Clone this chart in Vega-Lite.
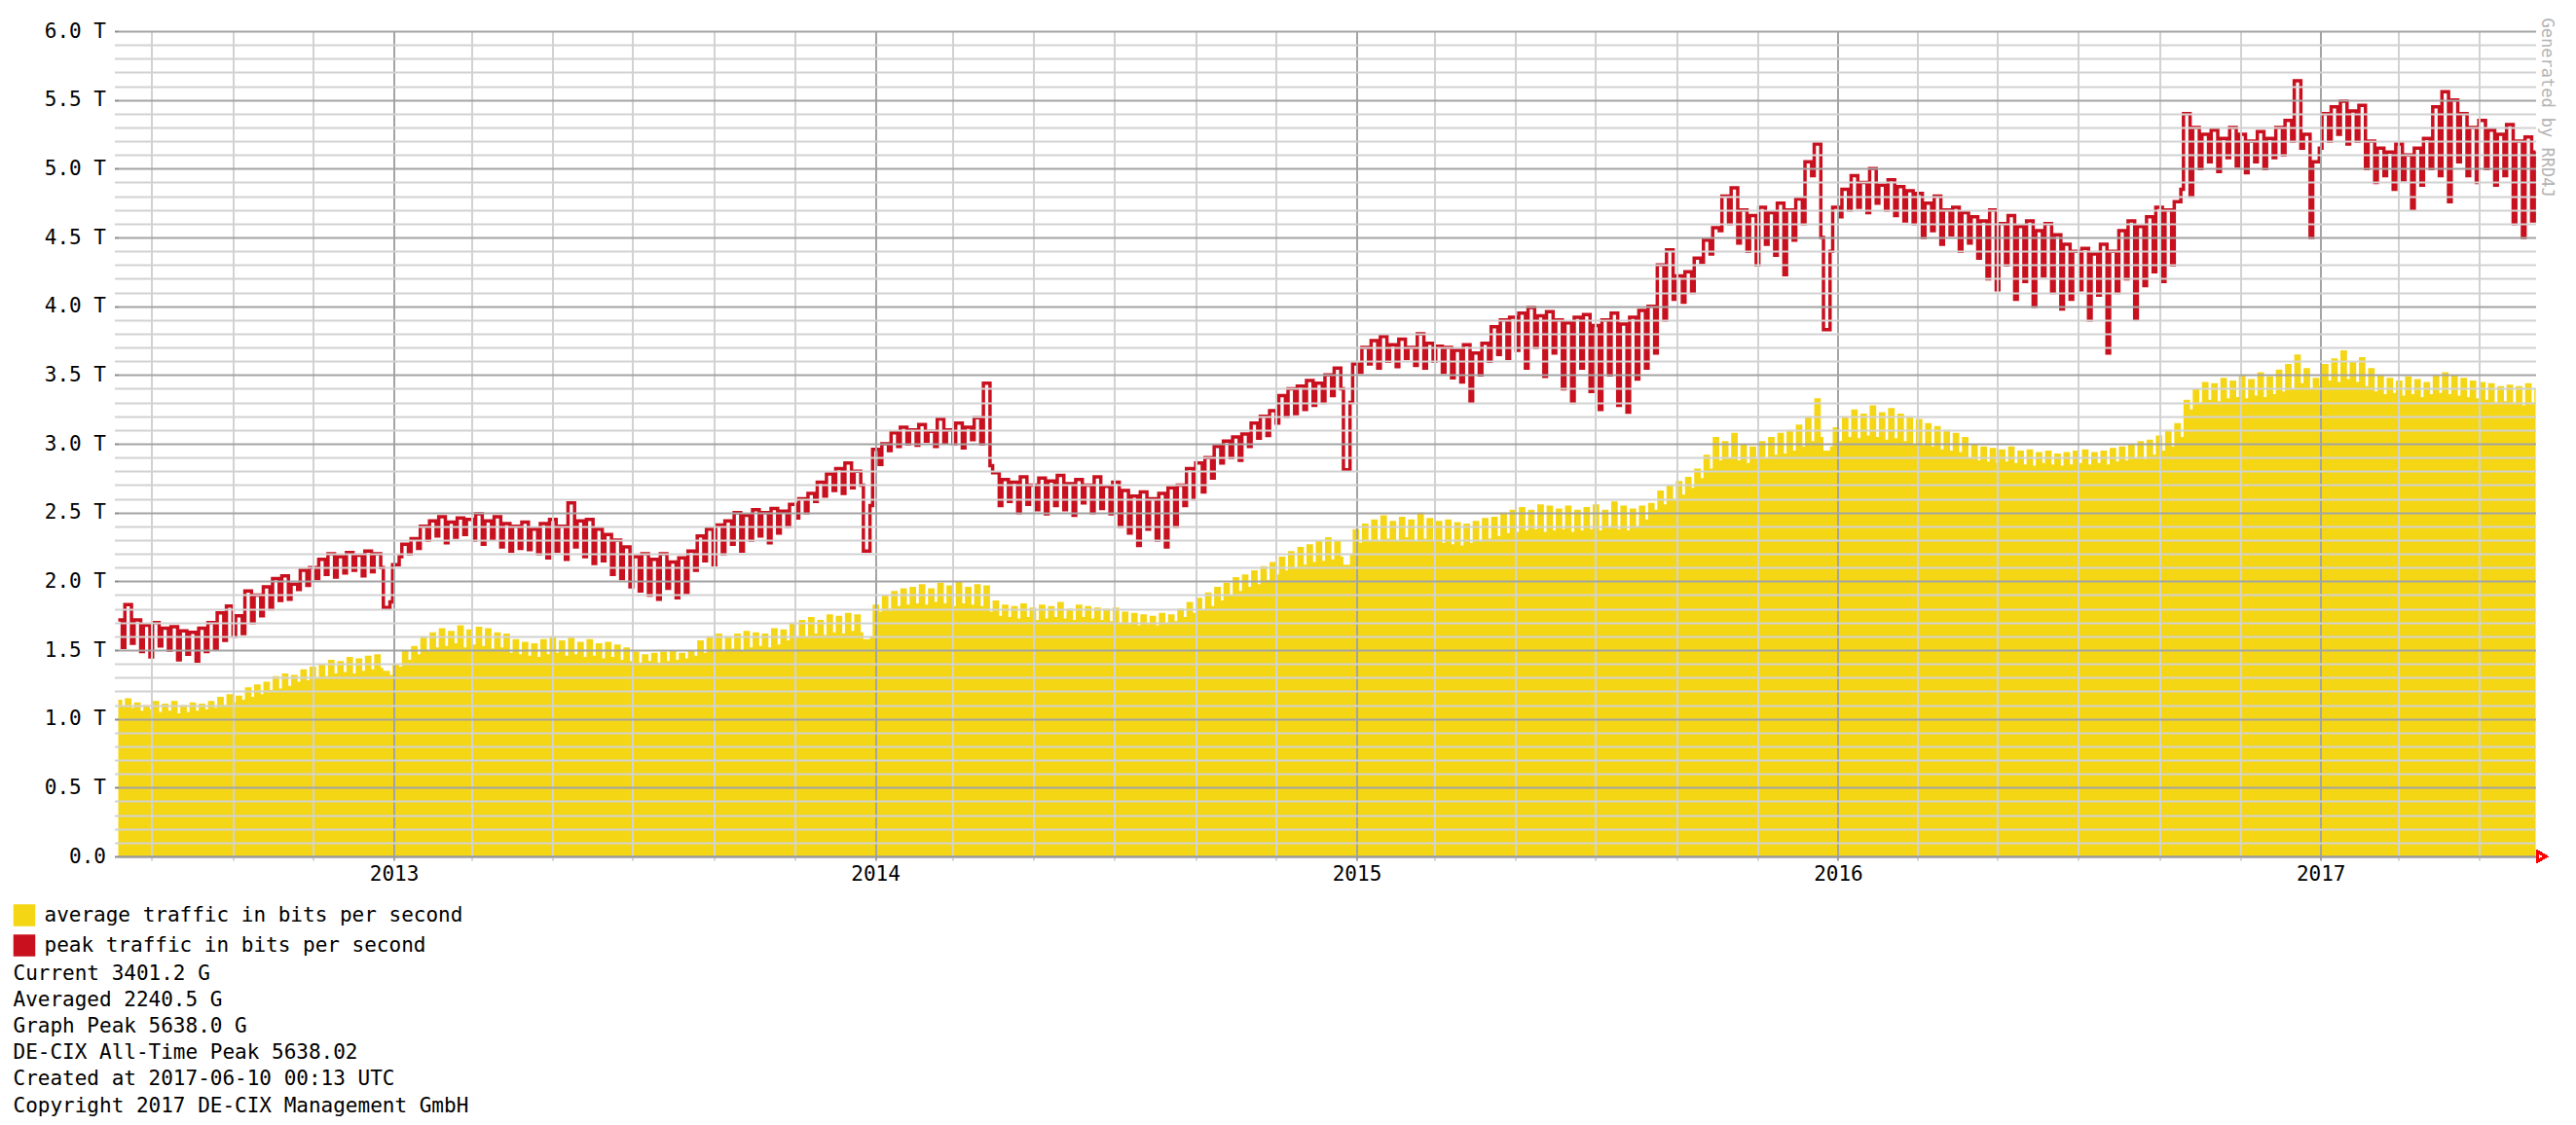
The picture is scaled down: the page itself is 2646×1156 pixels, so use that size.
{
"$schema": "https://vega.github.io/schema/vega-lite/v6.json",
"width": 2483, "height": 848,
"autosize": {"type": "none"},
"padding": {"left": 121.5, "top": 32, "right": 41.5, "bottom": 276},
"background": "white",
"config": {"view": {"stroke": null}, "font": "DejaVu Sans Mono", "legend": {"symbolStrokeColor": "black", "symbolStrokeWidth": 2.5}},
"title": {"text": ["Current 3401.2 G", "Averaged 2240.5 G", "Graph Peak 5638.0 G", "DE-CIX All-Time Peak 5638.02", "Created at 2017-06-10 00:13 UTC", "Copyright 2017 DE-CIX Management GmbH"], "orient": "bottom", "anchor": "start", "frame": "group", "dx": -108, "offset": 3, "font": "DejaVu Sans Mono", "fontSize": 21, "fontWeight": "normal", "color": "black", "lineHeight": 27.1},
"data": {"values": [
{"t":0,"a":1.14,"p":1.72},
{"t":3,"a":1.09,"p":1.52},{"t":5,"a":1.15,"p":1.83},
{"t":10,"a":1.08,"p":1.55},{"t":12,"a":1.12,"p":1.72},
{"t":17,"a":1.06,"p":1.49},{"t":19,"a":1.10,"p":1.68},
{"t":24,"a":1.07,"p":1.45},{"t":26,"a":1.13,"p":1.70},
{"t":31,"a":1.05,"p":1.53},{"t":33,"a":1.11,"p":1.66},
{"t":38,"a":1.06,"p":1.50},{"t":40,"a":1.13,"p":1.67},
{"t":45,"a":1.04,"p":1.43},{"t":47,"a":1.10,"p":1.64},
{"t":52,"a":1.05,"p":1.47},{"t":54,"a":1.12,"p":1.63},
{"t":59,"a":1.06,"p":1.42},{"t":61,"a":1.11,"p":1.66},
{"t":66,"a":1.07,"p":1.49},{"t":68,"a":1.13,"p":1.70},
{"t":73,"a":1.08,"p":1.51},{"t":75,"a":1.16,"p":1.77},
{"t":80,"a":1.10,"p":1.57},{"t":82,"a":1.18,"p":1.82},
{"t":87,"a":1.12,"p":1.60},{"t":89,"a":1.17,"p":1.75},
{"t":94,"a":1.14,"p":1.62},{"t":96,"a":1.23,"p":1.93},
{"t":101,"a":1.16,"p":1.70},{"t":103,"a":1.25,"p":1.90},
{"t":108,"a":1.18,"p":1.75},{"t":110,"a":1.27,"p":1.96},
{"t":115,"a":1.21,"p":1.80},{"t":117,"a":1.31,"p":2.02},
{"t":122,"a":1.22,"p":1.86},{"t":124,"a":1.33,"p":2.04},
{"t":129,"a":1.24,"p":1.87},{"t":131,"a":1.32,"p":1.98},
{"t":136,"a":1.27,"p":1.94},{"t":138,"a":1.36,"p":2.08},
{"t":143,"a":1.28,"p":1.97},{"t":145,"a":1.38,"p":2.10},
{"t":150,"a":1.30,"p":2.02},{"t":152,"a":1.40,"p":2.16},
{"t":157,"a":1.31,"p":2.05},{"t":159,"a":1.43,"p":2.20},
{"t":164,"a":1.33,"p":2.03},{"t":166,"a":1.42,"p":2.18},
{"t":171,"a":1.34,"p":2.06},{"t":173,"a":1.45,"p":2.21},
{"t":178,"a":1.33,"p":2.08},{"t":180,"a":1.44,"p":2.19},
{"t":185,"a":1.35,"p":2.04},{"t":187,"a":1.46,"p":2.22},
{"t":192,"a":1.36,"p":2.07},{"t":194,"a":1.47,"p":2.20},
{"t":199,"a":1.37,"p":2.10},{"t":201,"a":1.35,"p":1.81},
{"t":206,"a":1.32,"p":1.85},{"t":208,"a":1.40,"p":2.12},
{"t":213,"a":1.38,"p":2.18},{"t":215,"a":1.50,"p":2.27},
{"t":220,"a":1.43,"p":2.20},{"t":222,"a":1.53,"p":2.31},
{"t":227,"a":1.47,"p":2.24},{"t":229,"a":1.60,"p":2.40},
{"t":234,"a":1.50,"p":2.30},{"t":236,"a":1.63,"p":2.44},
{"t":241,"a":1.52,"p":2.33},{"t":243,"a":1.66,"p":2.47},
{"t":248,"a":1.53,"p":2.28},{"t":250,"a":1.64,"p":2.43},
{"t":255,"a":1.55,"p":2.32},{"t":257,"a":1.68,"p":2.46},
{"t":262,"a":1.52,"p":2.34},{"t":264,"a":1.65,"p":2.45},
{"t":269,"a":1.54,"p":2.30},{"t":271,"a":1.67,"p":2.49},
{"t":276,"a":1.53,"p":2.27},{"t":278,"a":1.66,"p":2.44},
{"t":283,"a":1.51,"p":2.31},{"t":285,"a":1.63,"p":2.47},
{"t":290,"a":1.52,"p":2.25},{"t":292,"a":1.62,"p":2.42},
{"t":297,"a":1.48,"p":2.22},{"t":299,"a":1.58,"p":2.40},
{"t":304,"a":1.47,"p":2.24},{"t":306,"a":1.56,"p":2.43},
{"t":311,"a":1.46,"p":2.23},{"t":313,"a":1.55,"p":2.38},
{"t":318,"a":1.45,"p":2.20},{"t":320,"a":1.58,"p":2.42},
{"t":325,"a":1.47,"p":2.17},{"t":327,"a":1.60,"p":2.45},
{"t":332,"a":1.48,"p":2.22},{"t":334,"a":1.57,"p":2.40},
{"t":339,"a":1.46,"p":2.16},{"t":341,"a":1.59,"p":2.57},
{"t":346,"a":1.47,"p":2.25},{"t":348,"a":1.56,"p":2.44},
{"t":353,"a":1.45,"p":2.18},{"t":355,"a":1.58,"p":2.45},
{"t":360,"a":1.46,"p":2.13},{"t":362,"a":1.55,"p":2.38},
{"t":367,"a":1.44,"p":2.15},{"t":369,"a":1.56,"p":2.34},
{"t":374,"a":1.45,"p":2.05},{"t":376,"a":1.54,"p":2.30},
{"t":381,"a":1.43,"p":2.02},{"t":383,"a":1.52,"p":2.25},
{"t":388,"a":1.42,"p":1.96},{"t":390,"a":1.49,"p":2.18},
{"t":395,"a":1.41,"p":1.93},{"t":397,"a":1.47,"p":2.20},
{"t":402,"a":1.42,"p":1.90},{"t":404,"a":1.48,"p":2.16},
{"t":409,"a":1.41,"p":1.87},{"t":411,"a":1.49,"p":2.20},
{"t":416,"a":1.42,"p":1.95},{"t":418,"a":1.50,"p":2.14},
{"t":423,"a":1.43,"p":1.88},{"t":425,"a":1.48,"p":2.17},
{"t":430,"a":1.44,"p":1.92},{"t":432,"a":1.50,"p":2.22},
{"t":437,"a":1.46,"p":2.08},{"t":439,"a":1.57,"p":2.33},
{"t":444,"a":1.48,"p":2.15},{"t":446,"a":1.60,"p":2.38},
{"t":451,"a":1.50,"p":2.12},{"t":453,"a":1.62,"p":2.41},
{"t":458,"a":1.49,"p":2.20},{"t":460,"a":1.60,"p":2.44},
{"t":465,"a":1.51,"p":2.27},{"t":467,"a":1.62,"p":2.50},
{"t":472,"a":1.50,"p":2.22},{"t":474,"a":1.64,"p":2.48},
{"t":479,"a":1.52,"p":2.30},{"t":481,"a":1.63,"p":2.52},
{"t":486,"a":1.53,"p":2.33},{"t":488,"a":1.62,"p":2.50},
{"t":493,"a":1.52,"p":2.28},{"t":495,"a":1.66,"p":2.53},
{"t":500,"a":1.54,"p":2.35},{"t":502,"a":1.65,"p":2.51},
{"t":507,"a":1.57,"p":2.40},{"t":509,"a":1.70,"p":2.56},
{"t":514,"a":1.59,"p":2.46},{"t":516,"a":1.72,"p":2.60},
{"t":521,"a":1.60,"p":2.50},{"t":523,"a":1.74,"p":2.64},
{"t":528,"a":1.62,"p":2.58},{"t":530,"a":1.72,"p":2.72},
{"t":535,"a":1.61,"p":2.62},{"t":537,"a":1.76,"p":2.78},
{"t":542,"a":1.63,"p":2.66},{"t":544,"a":1.75,"p":2.82},
{"t":549,"a":1.62,"p":2.64},{"t":551,"a":1.77,"p":2.86},
{"t":556,"a":1.64,"p":2.68},{"t":558,"a":1.76,"p":2.80},
{"t":563,"a":1.63,"p":2.70},{"t":565,"a":1.58,"p":2.22},
{"t":570,"a":1.60,"p":2.55},{"t":572,"a":1.83,"p":2.96},
{"t":577,"a":1.78,"p":2.85},{"t":579,"a":1.90,"p":3.00},
{"t":584,"a":1.80,"p":2.95},{"t":586,"a":1.93,"p":3.08},
{"t":591,"a":1.82,"p":2.98},{"t":593,"a":1.95,"p":3.12},
{"t":598,"a":1.83,"p":3.00},{"t":600,"a":1.96,"p":3.10},
{"t":605,"a":1.84,"p":2.99},{"t":607,"a":1.98,"p":3.14},
{"t":612,"a":1.83,"p":3.02},{"t":614,"a":1.95,"p":3.09},
{"t":619,"a":1.85,"p":2.98},{"t":621,"a":1.99,"p":3.18},
{"t":626,"a":1.84,"p":3.01},{"t":628,"a":1.97,"p":3.10},
{"t":633,"a":1.82,"p":3.00},{"t":635,"a":2.00,"p":3.15},
{"t":640,"a":1.84,"p":2.97},{"t":642,"a":1.96,"p":3.12},
{"t":647,"a":1.83,"p":3.03},{"t":649,"a":1.98,"p":3.19},
{"t":654,"a":1.82,"p":3.00},{"t":656,"a":1.97,"p":3.44},
{"t":661,"a":1.78,"p":2.84},{"t":663,"a":1.86,"p":2.79},
{"t":668,"a":1.75,"p":2.55},{"t":670,"a":1.83,"p":2.74},
{"t":675,"a":1.74,"p":2.58},{"t":677,"a":1.82,"p":2.72},
{"t":682,"a":1.73,"p":2.50},{"t":684,"a":1.84,"p":2.76},
{"t":689,"a":1.74,"p":2.56},{"t":691,"a":1.81,"p":2.70},
{"t":696,"a":1.72,"p":2.52},{"t":698,"a":1.83,"p":2.75},
{"t":703,"a":1.73,"p":2.49},{"t":705,"a":1.82,"p":2.73},
{"t":710,"a":1.74,"p":2.55},{"t":712,"a":1.85,"p":2.77},
{"t":717,"a":1.73,"p":2.52},{"t":719,"a":1.80,"p":2.71},
{"t":724,"a":1.72,"p":2.48},{"t":726,"a":1.83,"p":2.74},
{"t":731,"a":1.74,"p":2.57},{"t":733,"a":1.82,"p":2.70},
{"t":738,"a":1.73,"p":2.50},{"t":740,"a":1.81,"p":2.76},
{"t":745,"a":1.72,"p":2.53},{"t":747,"a":1.80,"p":2.69},
{"t":752,"a":1.71,"p":2.49},{"t":754,"a":1.81,"p":2.72},
{"t":759,"a":1.70,"p":2.40},{"t":761,"a":1.78,"p":2.66},
{"t":766,"a":1.69,"p":2.35},{"t":768,"a":1.77,"p":2.62},
{"t":773,"a":1.68,"p":2.26},{"t":775,"a":1.76,"p":2.65},
{"t":780,"a":1.69,"p":2.38},{"t":782,"a":1.75,"p":2.60},
{"t":787,"a":1.68,"p":2.30},{"t":789,"a":1.77,"p":2.64},
{"t":794,"a":1.70,"p":2.25},{"t":796,"a":1.76,"p":2.68},
{"t":801,"a":1.71,"p":2.40},{"t":803,"a":1.80,"p":2.70},
{"t":808,"a":1.74,"p":2.55},{"t":810,"a":1.85,"p":2.82},
{"t":815,"a":1.77,"p":2.60},{"t":817,"a":1.88,"p":2.86},
{"t":822,"a":1.79,"p":2.65},{"t":824,"a":1.92,"p":2.90},
{"t":829,"a":1.82,"p":2.75},{"t":831,"a":1.96,"p":2.98},
{"t":836,"a":1.86,"p":2.86},{"t":838,"a":1.99,"p":3.02},
{"t":843,"a":1.90,"p":2.90},{"t":845,"a":2.03,"p":3.05},
{"t":850,"a":1.93,"p":2.88},{"t":852,"a":2.05,"p":3.07},
{"t":857,"a":1.96,"p":2.98},{"t":859,"a":2.08,"p":3.15},
{"t":864,"a":1.98,"p":3.04},{"t":866,"a":2.11,"p":3.20},
{"t":871,"a":2.01,"p":3.06},{"t":873,"a":2.14,"p":3.24},
{"t":878,"a":2.05,"p":3.15},{"t":880,"a":2.18,"p":3.35},
{"t":885,"a":2.08,"p":3.20},{"t":887,"a":2.22,"p":3.40},
{"t":892,"a":2.10,"p":3.22},{"t":894,"a":2.25,"p":3.42},
{"t":899,"a":2.12,"p":3.25},{"t":901,"a":2.27,"p":3.46},
{"t":906,"a":2.14,"p":3.28},{"t":908,"a":2.30,"p":3.44},
{"t":913,"a":2.15,"p":3.30},{"t":915,"a":2.32,"p":3.50},
{"t":920,"a":2.16,"p":3.35},{"t":922,"a":2.30,"p":3.55},
{"t":927,"a":2.18,"p":3.40},{"t":929,"a":2.12,"p":2.81},
{"t":934,"a":2.20,"p":3.30},{"t":936,"a":2.38,"p":3.58},
{"t":941,"a":2.28,"p":3.52},{"t":943,"a":2.42,"p":3.70},
{"t":948,"a":2.30,"p":3.58},{"t":950,"a":2.45,"p":3.75},
{"t":955,"a":2.29,"p":3.55},{"t":957,"a":2.48,"p":3.78},
{"t":962,"a":2.31,"p":3.60},{"t":964,"a":2.44,"p":3.72},
{"t":969,"a":2.30,"p":3.56},{"t":971,"a":2.47,"p":3.76},
{"t":976,"a":2.32,"p":3.62},{"t":978,"a":2.45,"p":3.70},
{"t":983,"a":2.29,"p":3.57},{"t":985,"a":2.50,"p":3.80},
{"t":990,"a":2.31,"p":3.55},{"t":992,"a":2.46,"p":3.73},
{"t":997,"a":2.30,"p":3.60},{"t":999,"a":2.44,"p":3.71},
{"t":1004,"a":2.28,"p":3.52},{"t":1006,"a":2.45,"p":3.70},
{"t":1011,"a":2.27,"p":3.48},{"t":1013,"a":2.43,"p":3.68},
{"t":1018,"a":2.26,"p":3.45},{"t":1020,"a":2.42,"p":3.72},
{"t":1025,"a":2.28,"p":3.31},{"t":1027,"a":2.44,"p":3.66},
{"t":1032,"a":2.29,"p":3.50},{"t":1034,"a":2.46,"p":3.73},
{"t":1039,"a":2.31,"p":3.60},{"t":1041,"a":2.47,"p":3.85},
{"t":1046,"a":2.33,"p":3.65},{"t":1048,"a":2.50,"p":3.90},
{"t":1053,"a":2.35,"p":3.62},{"t":1055,"a":2.52,"p":3.92},
{"t":1060,"a":2.36,"p":3.68},{"t":1062,"a":2.54,"p":3.95},
{"t":1067,"a":2.37,"p":3.55},{"t":1069,"a":2.52,"p":3.99},
{"t":1074,"a":2.38,"p":3.70},{"t":1076,"a":2.56,"p":3.93},
{"t":1081,"a":2.36,"p":3.49},{"t":1083,"a":2.55,"p":3.96},
{"t":1088,"a":2.37,"p":3.66},{"t":1090,"a":2.53,"p":3.90},
{"t":1095,"a":2.38,"p":3.40},{"t":1097,"a":2.55,"p":3.88},
{"t":1102,"a":2.36,"p":3.30},{"t":1104,"a":2.52,"p":3.92},
{"t":1109,"a":2.37,"p":3.55},{"t":1111,"a":2.54,"p":3.94},
{"t":1116,"a":2.38,"p":3.38},{"t":1118,"a":2.56,"p":3.86},
{"t":1123,"a":2.37,"p":3.25},{"t":1125,"a":2.52,"p":3.90},
{"t":1130,"a":2.39,"p":3.50},{"t":1132,"a":2.58,"p":3.95},
{"t":1137,"a":2.38,"p":3.28},{"t":1139,"a":2.55,"p":3.87},
{"t":1144,"a":2.37,"p":3.23},{"t":1146,"a":2.53,"p":3.92},
{"t":1151,"a":2.40,"p":3.47},{"t":1153,"a":2.55,"p":3.97},
{"t":1158,"a":2.45,"p":3.55},{"t":1160,"a":2.57,"p":4.00},
{"t":1165,"a":2.52,"p":3.66},{"t":1167,"a":2.66,"p":4.30},
{"t":1172,"a":2.56,"p":3.90},{"t":1174,"a":2.70,"p":4.41},
{"t":1179,"a":2.60,"p":4.05},{"t":1181,"a":2.73,"p":4.22},
{"t":1186,"a":2.63,"p":4.03},{"t":1188,"a":2.76,"p":4.25},
{"t":1193,"a":2.68,"p":4.10},{"t":1195,"a":2.82,"p":4.35},
{"t":1200,"a":2.75,"p":4.32},{"t":1202,"a":2.92,"p":4.48},
{"t":1207,"a":2.82,"p":4.38},{"t":1209,"a":3.05,"p":4.57},
{"t":1214,"a":2.88,"p":4.55},{"t":1216,"a":3.02,"p":4.80},
{"t":1221,"a":2.90,"p":4.60},{"t":1223,"a":3.08,"p":4.86},
{"t":1228,"a":2.88,"p":4.46},{"t":1230,"a":3.00,"p":4.70},
{"t":1235,"a":2.86,"p":4.40},{"t":1237,"a":2.98,"p":4.66},
{"t":1242,"a":2.89,"p":4.30},{"t":1244,"a":3.02,"p":4.72},
{"t":1249,"a":2.90,"p":4.45},{"t":1251,"a":3.05,"p":4.68},
{"t":1256,"a":2.92,"p":4.37},{"t":1258,"a":3.08,"p":4.75},
{"t":1263,"a":2.93,"p":4.23},{"t":1265,"a":3.10,"p":4.70},
{"t":1270,"a":2.95,"p":4.48},{"t":1272,"a":3.14,"p":4.78},
{"t":1277,"a":2.98,"p":4.60},{"t":1279,"a":3.20,"p":5.05},
{"t":1284,"a":3.02,"p":4.95},{"t":1286,"a":3.33,"p":5.18},
{"t":1291,"a":3.05,"p":4.50},{"t":1293,"a":2.95,"p":3.83},
{"t":1298,"a":2.98,"p":4.40},{"t":1300,"a":3.12,"p":4.72},
{"t":1305,"a":3.02,"p":4.65},{"t":1307,"a":3.20,"p":4.85},
{"t":1312,"a":3.05,"p":4.70},{"t":1314,"a":3.25,"p":4.95},
{"t":1319,"a":3.04,"p":4.72},{"t":1321,"a":3.22,"p":4.90},
{"t":1326,"a":3.06,"p":4.68},{"t":1328,"a":3.28,"p":5.00},
{"t":1333,"a":3.05,"p":4.75},{"t":1335,"a":3.23,"p":4.88},
{"t":1340,"a":3.03,"p":4.70},{"t":1342,"a":3.26,"p":4.92},
{"t":1347,"a":3.04,"p":4.66},{"t":1349,"a":3.22,"p":4.87},
{"t":1354,"a":3.02,"p":4.62},{"t":1356,"a":3.20,"p":4.84},
{"t":1361,"a":3.00,"p":4.60},{"t":1363,"a":3.18,"p":4.82},
{"t":1368,"a":2.99,"p":4.50},{"t":1370,"a":3.15,"p":4.75},
{"t":1375,"a":2.98,"p":4.55},{"t":1377,"a":3.13,"p":4.80},
{"t":1382,"a":2.96,"p":4.45},{"t":1384,"a":3.10,"p":4.70},
{"t":1389,"a":2.95,"p":4.52},{"t":1391,"a":3.08,"p":4.72},
{"t":1396,"a":2.94,"p":4.40},{"t":1398,"a":3.05,"p":4.68},
{"t":1403,"a":2.90,"p":4.46},{"t":1405,"a":3.00,"p":4.65},
{"t":1410,"a":2.88,"p":4.35},{"t":1412,"a":2.98,"p":4.62},
{"t":1417,"a":2.87,"p":4.20},{"t":1419,"a":2.97,"p":4.70},
{"t":1424,"a":2.86,"p":4.12},{"t":1426,"a":2.96,"p":4.60},
{"t":1431,"a":2.87,"p":4.30},{"t":1433,"a":2.98,"p":4.66},
{"t":1438,"a":2.86,"p":4.05},{"t":1440,"a":2.95,"p":4.58},
{"t":1445,"a":2.85,"p":4.18},{"t":1447,"a":2.96,"p":4.62},
{"t":1452,"a":2.84,"p":4.00},{"t":1454,"a":2.94,"p":4.55},
{"t":1459,"a":2.86,"p":4.22},{"t":1461,"a":2.95,"p":4.60},
{"t":1466,"a":2.85,"p":4.10},{"t":1468,"a":2.93,"p":4.52},
{"t":1473,"a":2.84,"p":3.98},{"t":1475,"a":2.94,"p":4.45},
{"t":1480,"a":2.85,"p":4.05},{"t":1482,"a":2.95,"p":4.40},
{"t":1487,"a":2.86,"p":4.12},{"t":1489,"a":2.96,"p":4.42},
{"t":1494,"a":2.85,"p":3.90},{"t":1496,"a":2.94,"p":4.38},
{"t":1501,"a":2.86,"p":4.08},{"t":1503,"a":2.95,"p":4.45},
{"t":1508,"a":2.85,"p":3.66},{"t":1510,"a":2.97,"p":4.40},
{"t":1515,"a":2.87,"p":4.10},{"t":1517,"a":2.98,"p":4.55},
{"t":1522,"a":2.88,"p":4.20},{"t":1524,"a":3.00,"p":4.62},
{"t":1529,"a":2.90,"p":3.91},{"t":1531,"a":3.02,"p":4.58},
{"t":1536,"a":2.89,"p":4.15},{"t":1538,"a":3.03,"p":4.65},
{"t":1543,"a":2.92,"p":4.25},{"t":1545,"a":3.06,"p":4.72},
{"t":1550,"a":2.95,"p":4.18},{"t":1552,"a":3.10,"p":4.70},
{"t":1557,"a":2.98,"p":4.30},{"t":1559,"a":3.15,"p":4.76},
{"t":1564,"a":3.05,"p":4.85},{"t":1566,"a":3.32,"p":5.40},
{"t":1571,"a":3.25,"p":4.80},{"t":1573,"a":3.40,"p":5.30},
{"t":1578,"a":3.30,"p":5.00},{"t":1580,"a":3.45,"p":5.25},
{"t":1585,"a":3.32,"p":5.05},{"t":1587,"a":3.44,"p":5.28},
{"t":1592,"a":3.31,"p":4.98},{"t":1594,"a":3.48,"p":5.22},
{"t":1599,"a":3.33,"p":5.08},{"t":1601,"a":3.46,"p":5.30},
{"t":1606,"a":3.34,"p":5.02},{"t":1608,"a":3.50,"p":5.25},
{"t":1613,"a":3.33,"p":4.97},{"t":1615,"a":3.47,"p":5.20},
{"t":1620,"a":3.35,"p":5.05},{"t":1622,"a":3.52,"p":5.27},
{"t":1627,"a":3.34,"p":5.00},{"t":1629,"a":3.49,"p":5.22},
{"t":1634,"a":3.36,"p":5.08},{"t":1636,"a":3.54,"p":5.30},
{"t":1641,"a":3.38,"p":5.10},{"t":1643,"a":3.58,"p":5.35},
{"t":1648,"a":3.40,"p":5.20},{"t":1650,"a":3.65,"p":5.64},
{"t":1655,"a":3.44,"p":5.15},{"t":1657,"a":3.55,"p":5.25},
{"t":1662,"a":3.40,"p":4.50},{"t":1664,"a":3.48,"p":5.05},
{"t":1669,"a":3.42,"p":5.15},{"t":1671,"a":3.58,"p":5.40},
{"t":1676,"a":3.46,"p":5.20},{"t":1678,"a":3.62,"p":5.45},
{"t":1683,"a":3.45,"p":5.25},{"t":1685,"a":3.68,"p":5.49},
{"t":1690,"a":3.47,"p":5.18},{"t":1692,"a":3.60,"p":5.42},
{"t":1697,"a":3.45,"p":5.20},{"t":1699,"a":3.63,"p":5.46},
{"t":1704,"a":3.42,"p":5.00},{"t":1706,"a":3.55,"p":5.20},
{"t":1711,"a":3.38,"p":4.90},{"t":1713,"a":3.50,"p":5.15},
{"t":1718,"a":3.36,"p":4.95},{"t":1720,"a":3.48,"p":5.12},
{"t":1725,"a":3.37,"p":4.85},{"t":1727,"a":3.46,"p":5.18},
{"t":1732,"a":3.35,"p":4.92},{"t":1734,"a":3.49,"p":5.10},
{"t":1739,"a":3.36,"p":4.71},{"t":1741,"a":3.47,"p":5.15},
{"t":1746,"a":3.34,"p":4.88},{"t":1748,"a":3.45,"p":5.22},
{"t":1753,"a":3.36,"p":5.00},{"t":1755,"a":3.50,"p":5.45},
{"t":1760,"a":3.37,"p":4.95},{"t":1762,"a":3.52,"p":5.56},
{"t":1767,"a":3.36,"p":4.76},{"t":1769,"a":3.50,"p":5.50},
{"t":1774,"a":3.35,"p":5.05},{"t":1776,"a":3.48,"p":5.40},
{"t":1781,"a":3.34,"p":4.95},{"t":1783,"a":3.46,"p":5.30},
{"t":1788,"a":3.33,"p":4.90},{"t":1790,"a":3.45,"p":5.35},
{"t":1795,"a":3.32,"p":5.00},{"t":1797,"a":3.44,"p":5.28},
{"t":1802,"a":3.30,"p":4.88},{"t":1804,"a":3.42,"p":5.25},
{"t":1809,"a":3.31,"p":4.95},{"t":1811,"a":3.43,"p":5.32},
{"t":1816,"a":3.30,"p":4.60},{"t":1818,"a":3.42,"p":5.20},
{"t":1823,"a":3.28,"p":4.50},{"t":1825,"a":3.44,"p":5.23},
{"t":1830,"a":3.30,"p":4.62},{"t":1832,"a":3.40,"p":5.12},
{"t":1833,"a":3.40,"p":5.12}
]},
"layer": [
{"mark": {"type": "area", "interpolate": "step-after", "opacity": 1},
 "encoding": {
  "x": {"field": "t", "type": "quantitative", "scale": {"domain": [0, 1833], "nice": false, "zero": false},
   "axis": {"values": [25,87,148,209,268,329,390,452,513,574,633,694,755,817,878,939,998,1059,1120,1182,1243,1304,1364,1425,1486,1548,1609,1670,1729,1790],
    "labelExpr": "datum.value==209?'2013':datum.value==574?'2014':datum.value==939?'2015':datum.value==1304?'2016':datum.value==1670?'2017':''",
    "title": null, "grid": true, "zindex": 1,
    "gridColor": {"condition": {"test": "indexof([209,574,939,1304,1670], datum.value) >= 0", "value": "#a4a4a4"}, "value": "#d2d2d2"},
    "gridWidth": 2, "tickSize": 4, "tickWidth": 2,
    "tickColor": {"condition": {"test": "indexof([209,574,939,1304,1670], datum.value) >= 0", "value": "#a4a4a4"}, "value": "#d2d2d2"},
    "domain": true, "domainColor": "#9a9a9a", "domainWidth": 2,
    "labelFont": "DejaVu Sans Mono", "labelFontSize": 21, "labelColor": "black", "labelPadding": 3, "labelAngle": 0,
    "labelOverlap": false, "labelFlush": false, "labelBound": false}},
  "y": {"field": "a", "type": "quantitative", "stack": null, "scale": {"domain": [0, 6], "nice": false},
   "axis": {"values": [0,0.1,0.2,0.3,0.4,0.5,0.6,0.7,0.8,0.9,1,1.1,1.2,1.3,1.4,1.5,1.6,1.7,1.8,1.9,2,2.1,2.2,2.3,2.4,2.5,2.6,2.7,2.8,2.9,3,3.1,3.2,3.3,3.4,3.5,3.6,3.7,3.8,3.9,4,4.1,4.2,4.3,4.4,4.5,4.6,4.7,4.8,4.9,5,5.1,5.2,5.3,5.4,5.5,5.6,5.7,5.8,5.9,6],
    "labelExpr": "abs(datum.value*2-round(datum.value*2))<0.01 ? (datum.value==0 ? '0.0' : format(datum.value,'.1f')+' T') : ''",
    "title": null, "grid": true, "zindex": 1, "domain": false,
    "gridColor": {"condition": {"test": "abs(datum.value*2-round(datum.value*2))<0.01", "value": "#a4a4a4"}, "value": "#d2d2d2"},
    "gridWidth": 2, "tickSize": 4, "tickWidth": 2,
    "tickColor": {"condition": {"test": "abs(datum.value*2-round(datum.value*2))<0.01", "value": "#8a8a8a"}, "value": "#d2d2d2"},
    "labelFont": "DejaVu Sans Mono", "labelFontSize": 21, "labelColor": "black", "labelPadding": 9,
    "labelOverlap": false, "labelFlush": false, "labelBound": false}},
  "color": {"datum": "average traffic in bits per second", "type": "nominal",
   "scale": {"domain": ["average traffic in bits per second", "peak traffic in bits per second"], "range": ["#f5d614", "#c8101e"]},
   "legend": {"orient": "none", "legendX": -108, "legendY": 897, "title": null, "symbolType": "square", "symbolSize": 400,
    "symbolStrokeColor": "black", "symbolStrokeWidth": 2.5, "symbolOpacity": 1, "labelFont": "DejaVu Sans Mono", "labelFontSize": 21,
    "labelColor": "black", "labelOffset": 9, "rowPadding": 0, "padding": 0, "labelLimit": 0}}
 }},
{"mark": {"type": "line", "interpolate": "step-after", "strokeWidth": 3.5},
 "encoding": {
  "x": {"field": "t", "type": "quantitative"},
  "y": {"field": "p", "type": "quantitative", "scale": {"domain": [0, 6], "nice": false},
   "axis": {"orient": "right", "title": "Generated by RRD4J", "labels": false, "ticks": false, "domain": false, "grid": false,
    "titleFont": "DejaVu Sans Mono", "titleFontSize": 17, "titleColor": "#b4b4b4", "titleFontWeight": "normal",
    "titleAngle": 90, "titleAnchor": "end", "titleAlign": "left", "titlePadding": 2, "titleY": -14}},
  "color": {"datum": "peak traffic in bits per second", "type": "nominal", "legend": null}
 }},
{"mark": {"type": "point", "shape": "triangle-right", "size": 110, "filled": false, "color": "#ff0000", "strokeWidth": 2, "opacity": 1},
 "encoding": {
  "x": {"datum": 1837.5, "type": "quantitative"},
  "y": {"datum": 0, "type": "quantitative", "scale": {"domain": [0, 6], "nice": false}, "axis": null}
 }}
],
"resolve": {"scale": {"y": "independent"}}
}
